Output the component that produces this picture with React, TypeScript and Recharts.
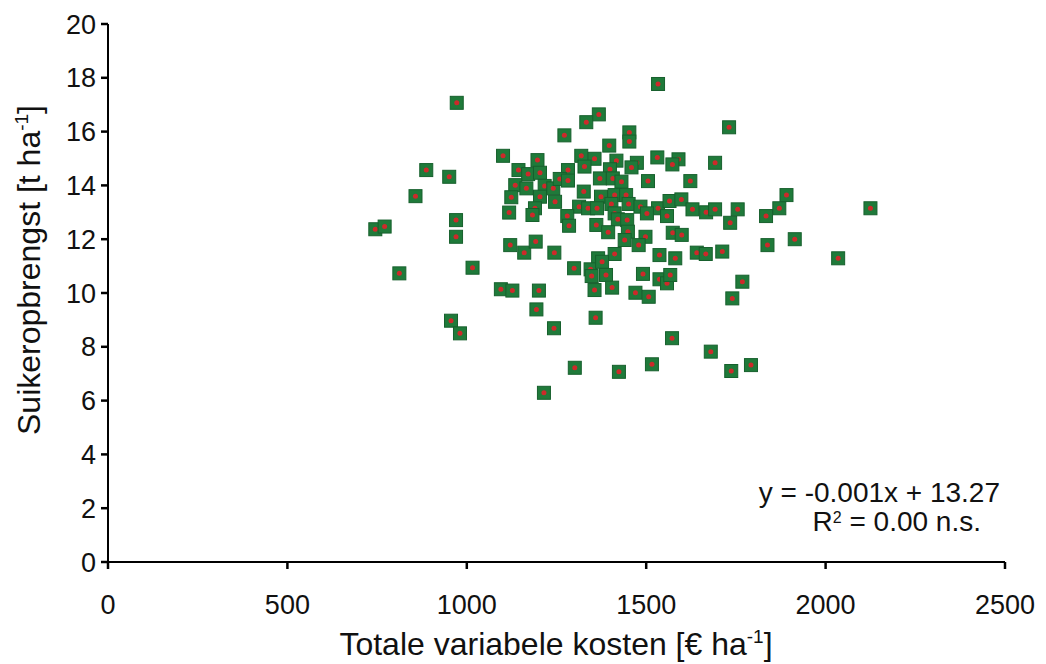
import React from "react";
import { ScatterChart, Scatter, XAxis, YAxis } from "recharts";

const costs: number[] = [
  972, 1101, 887, 951, 857, 970, 970, 745, 771, 1144, 1171, 1197, 1204, 1135, 1166, 1124, 1217, 1241, 1204, 1190, 1183, 1246, 1118, 1121, 1160, 1192, 1244,
  1533, 1368, 1333, 1272, 1453, 1453, 1397, 1731, 1319, 1356, 1531, 1417, 1474, 1590, 1573, 1692, 1282, 1328, 1459, 1399, 1259, 1282, 1371, 1407, 1431, 1505, 1623,
  1326, 1374, 1412, 1444, 1313, 1338, 1363, 1403, 1451, 1484, 1533, 1565, 1598, 1629, 1667, 1692, 1755, 1734, 1834, 1412, 1502, 1558, 1280, 1285, 1421, 1447,
  1361, 1394, 1449, 1440, 1498, 1479, 1574, 1599, 1366, 1412, 1537, 1581, 1641, 1666, 1712, 1838,
  812, 1016, 1095, 1127, 1201, 1194, 1243, 956, 981, 1215,
  1299, 1345, 1377, 1348, 1388, 1356, 1405, 1491, 1537, 1558, 1567, 1470, 1507, 1768, 1740, 1359, 1572, 1680, 1301, 1424, 1516, 1737, 1792,
  1891, 1871, 2125, 1914, 2035,
];

const yields: number[] = [
  17.07, 15.1, 14.57, 14.32, 13.6, 12.71, 12.09, 12.37, 12.47, 14.57, 14.42, 14.94, 14.47, 14.01, 13.89, 13.56, 13.98, 13.89, 13.58, 13.15, 12.9, 13.39, 12.99, 11.78, 11.5, 11.91, 11.5,
  17.77, 16.64, 16.35, 15.86, 15.97, 15.63, 15.48, 16.16, 15.1, 14.99, 15.04, 14.92, 14.84, 14.97, 14.78, 14.84, 14.57, 14.7, 14.67, 14.6, 14.24, 14.18, 14.26, 14.26, 14.14, 14.16, 14.16,
  13.77, 13.58, 13.64, 13.64, 13.21, 13.15, 13.15, 13.31, 13.31, 13.21, 13.15, 13.42, 13.48, 13.11, 13.0, 13.11, 13.11, 12.61, 12.86, 12.96, 12.96, 12.86, 12.86, 12.5, 12.74, 12.71,
  12.53, 12.26, 12.28, 11.97, 12.09, 11.78, 12.24, 12.16, 11.29, 11.45, 11.41, 11.29, 11.5, 11.45, 11.54, 11.78,
  10.73, 10.94, 10.14, 10.09, 10.09, 9.39, 8.69, 8.97, 8.5, 6.29,
  10.92, 10.88, 11.16, 10.63, 10.67, 10.11, 10.2, 10.71, 10.51, 10.36, 10.67, 10.01, 9.86, 10.42, 9.8, 9.08, 8.32, 7.82, 7.22, 7.07, 7.35, 7.1, 7.32,
  13.64, 13.15, 13.15, 12.0, 11.29,
];

const xTicks: number[] = [0, 500, 1000, 1500, 2000, 2500];
const yTicks: number[] = [0, 2, 4, 6, 8, 10, 12, 14, 16, 18, 20];

const xTitle = "Totale variabele kosten [€ ha";
const yTitle = "Suikeropbrengst [t ha";
const eqLine = "y = -0.001x + 13.27";
const r2Rest = " = 0.00 n.s.";

const data = costs.map((c, i) => ({ x: c, y: yields[i] }));

const FONT = "'Liberation Sans', Arial, sans-serif";

const Marker = (props: any) => {
  const { cx, cy } = props;
  if (cx == null || cy == null) return null;
  return (
    <g>
      <rect x={cx - 6.5} y={cy - 6.5} width={13} height={13} fill="#1f7a3a" stroke="#17602d" strokeWidth={1} />
      <circle cx={cx} cy={cy} r={2.5} fill="#cc2a2a" />
    </g>
  );
};

const XTitleAndNote = () => (
  <g fontFamily={FONT} fill="#111">
    <text x={556} y={655} textAnchor="middle" fontSize={32}>
      {xTitle}
      <tspan dy={-12} fontSize={19}>-1</tspan>
      <tspan dy={12}>]</tspan>
    </text>
    <text x={1000} y={502} textAnchor="end" fontSize={28}>{eqLine}</text>
    <text x={981} y={531} textAnchor="end" fontSize={28}>
      R<tspan dy={-8} dx={0} fontSize={16}>2</tspan>
      <tspan dy={8}>{r2Rest}</tspan>
    </text>
  </g>
);

export default function App() {
  return (
    <div style={{ position: "absolute", left: 0, top: 0, width: 1046, height: 664, fontFamily: FONT }}>
      <ScatterChart width={1046} height={664} margin={{ top: 24, right: 41, bottom: 0, left: 0 }}>
        <XAxis
          type="number"
          dataKey="x"
          domain={[0, 2500]}
          ticks={xTicks}
          interval={0}
          height={102}
          axisLine={{ stroke: "#000", strokeWidth: 2 }}
          tickLine={{ stroke: "#000", strokeWidth: 2.5 }}
          tickSize={7}
          tickMargin={26}
          tick={{ fill: "#111", fontSize: 27, fontFamily: FONT }}
          label={{ content: () => <XTitleAndNote /> }}
        />
        <YAxis
          type="number"
          dataKey="y"
          domain={[0, 20]}
          ticks={yTicks}
          interval={0}
          width={108}
          axisLine={{ stroke: "#000", strokeWidth: 2 }}
          tickLine={{ stroke: "#000", strokeWidth: 2.5 }}
          tickSize={7}
          tickMargin={5}
          tick={{ fill: "#111", fontSize: 27, fontFamily: FONT }}
          label={{
            content: () => (
              <text
                x={0}
                y={0}
                transform="translate(40, 270) rotate(-90)"
                textAnchor="middle"
                fontSize={32}
                fill="#111"
                fontFamily={FONT}
              >
                {yTitle}
                <tspan dy={-12} fontSize={19}>-1</tspan>
                <tspan dy={12}>]</tspan>
              </text>
            ),
          }}
        />
        <Scatter data={data} shape={<Marker />} isAnimationActive={false} />
      </ScatterChart>
    </div>
  );
}
